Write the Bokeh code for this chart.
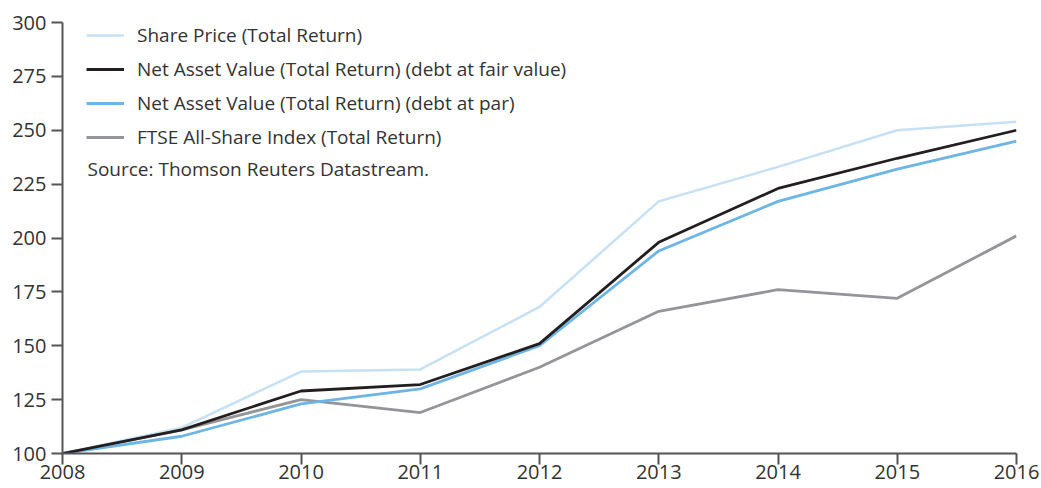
from bokeh.plotting import figure
from bokeh.models import Range1d, Legend, LegendItem, Label, FixedTicker
from bokeh.embed import file_html
from bokeh.resources import INLINE

years = [2008, 2009, 2010, 2011, 2012, 2013, 2014, 2015, 2016]
share_price = [100, 112, 138, 139, 168, 217, 233, 250, 254]
nav_fair = [100, 111, 129, 132, 151, 198, 223, 237, 250]
nav_par = [100, 108, 123, 130, 150, 194, 217, 232, 245]
ftse = [100, 111, 125, 119, 140, 166, 176, 172, 201]
y_ticks = [100, 125, 150, 175, 200, 225, 250, 275, 300]

labels = [
    "Share Price (Total Return)",
    "Net Asset Value (Total Return) (debt at fair value)",
    "Net Asset Value (Total Return) (debt at par)",
    "FTSE All-Share Index (Total Return)",
]
colors = ["#c6e1f5", "#231f20", "#6cb5e5", "#939598"]
source_text = "Source: Thomson Reuters Datastream."

FONT = "Open Sans"
TXT = "#333333"

p = figure(width=1041, height=488, output_backend="svg", toolbar_location=None,
           x_range=Range1d(2008, 2016), y_range=Range1d(100, 300),
           min_border_left=62, min_border_right=25, min_border_top=22,
           min_border_bottom=35)
p.outline_line_color = None
p.grid.visible = False

r_share = p.line(years, share_price, line_color=colors[0], line_width=2.5)
r_ftse = p.line(years, ftse, line_color=colors[3], line_width=2.8)
r_par = p.line(years, nav_par, line_color=colors[2], line_width=2.8)
r_fair = p.line(years, nav_fair, line_color=colors[1], line_width=2.8)

for ax in (p.xaxis[0], p.yaxis[0]):
    ax.axis_line_color = "#555555"
    ax.axis_line_width = 2
    ax.major_tick_line_color = "#555555"
    ax.major_tick_line_width = 2
    ax.major_tick_in = 0
    ax.major_tick_out = 11
    ax.minor_tick_line_color = None
    ax.major_label_text_font = FONT
    ax.major_label_text_color = TXT
    ax.major_label_text_font_size = "20px"

p.xaxis.ticker = FixedTicker(ticks=years)
p.yaxis.ticker = FixedTicker(ticks=y_ticks)
p.xaxis.major_label_standoff = 0
p.yaxis.major_label_standoff = 5

legend = Legend(items=[
    LegendItem(label=labels[0], renderers=[r_share]),
    LegendItem(label=labels[1], renderers=[r_fair]),
    LegendItem(label=labels[2], renderers=[r_par]),
    LegendItem(label=labels[3], renderers=[r_ftse]),
], location=(24, 303))
legend.margin = 0
legend.padding = 0
legend.background_fill_alpha = 0
legend.border_line_color = None
legend.label_text_font = FONT
legend.label_text_font_size = "19px"
legend.label_text_color = TXT
legend.glyph_width = 38
legend.glyph_height = 22
legend.label_height = 22
legend.label_standoff = 13
legend.spacing = 8
p.add_layout(legend, "center")

p.add_layout(Label(x=2008, y=300, x_offset=25, y_offset=-146, text=source_text,
                   text_font=FONT, text_font_size="19px", text_color=TXT,
                   text_baseline="middle"))

open("out.html", "w").write(file_html(p, INLINE))
